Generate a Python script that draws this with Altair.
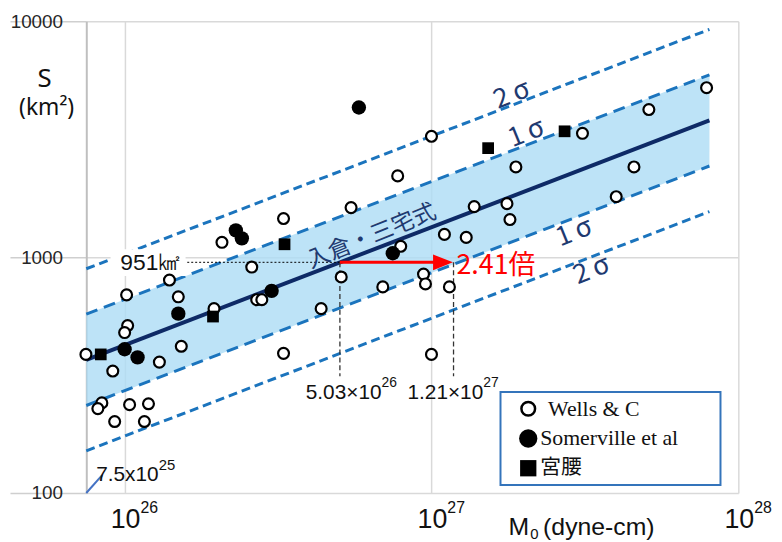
import altair as alt
import pandas as pd

# ---------------- data ----------------
# Wells & Coppersmith (open circles)
wells_m0 = [7.48e25, 1.015e26, 1.40e26, 1.496e26, 1.023e26, 1.0e26, 9.15e25, 1.298e26, 1.53e26, 1.956e26,
            8.43e25, 8.18e25, 1.038e26, 1.196e26, 9.28e25, 1.16e26, 2.076e26, 3.295e26, 5.47e26,
            2.596e26, 5.08e26, 2.694e26, 2.80e26, 4.37e26, 6.94e26, 3.295e26, 1.0e27, 7.76e26, 1.884e27,
            1.378e27, 1.762e27, 1.802e27, 1.102e27, 1.298e27, 7.94e26, 9.42e26, 9.56e26, 1.144e27, 1.0e27,
            3.105e27, 5.11e27, 7.88e27, 4.57e27, 4.0e27]
wells_s = [387, 692, 800, 679, 513, 479, 329, 359, 419, 605,
           241, 228, 237, 239, 201, 201, 1156, 1458, 1622,
           908, 824, 660, 660, 605, 748, 391, 3255, 2211, 2412,
           1638, 1686, 1444, 1249, 1213, 1112, 848, 770, 748, 387,
           3351, 4227, 5230, 2412, 1804]
# Somerville et al (filled circles)
som_m0 = [1.0e26, 1.102e26, 1.496e26, 3.013e26, 2.304e26, 2.41e26, 5.80e26, 7.48e26]
som_s = [407, 376, 576, 720, 1299, 1202, 4310, 1039]
# Miyakoshi (squares)
miy_m0 = [8.36e25, 1.941e26, 3.32e26, 1.53e27, 2.715e27]
miy_s = [387, 560, 1134, 2899, 3417]

# Irikura-Miyake relation and sigma bands (end points)
fit_m0 = [7.5e25, 8.05e27]
fit_s = [367, 3800]
s1_up = [573, 5930]
s1_dn = [235, 2435]
s2_up = [893, 9240]
s2_dn = [151, 1560]

# annotations
ref_m0 = [5.03e26, 1.18e27]
ref_s = 951
ref_bottom = 313
ref_sups = ["26", "27"]
ref_mants = ["5.03×10", "1.21×10"]
sigma_labels = ["2\u2009σ", "1\u2009σ", "1\u2009σ", "2\u2009σ"]
sigma_m0 = [1.83e27, 2.04e27, 2.92e27, 3.33e27]
sigma_s = [4880, 3350, 1270, 880]
xticks = [1e26, 1e27, 1e28]
xtick_sups = ["26", "27", "28"]
yticks = [100, 1000, 10000]

NARROW = "'Liberation Sans Narrow', 'Liberation Sans', sans-serif"
CJK = "Noto Sans CJK JP"
BAND = "#addcf5"
DASH = "#1b74bd"
NAVY = "#0e2a66"
TNAVY = "#1f3a70"

xs = alt.Scale(type="log", domain=[7.5e25, 1e28], nice=False)
ys = alt.Scale(type="log", domain=[100, 10000], nice=False)

xaxis = alt.Axis(values=xticks, labels=False, ticks=False, domain=False, grid=True,
                 gridColor="#d9d9d9", gridWidth=1.5, title=None)
yaxis = alt.Axis(values=yticks, grid=True, gridColor="#d9d9d9", gridWidth=1.5,
                 domainColor="#bfbfbf", domainWidth=2, tickColor="#cfcfcf", tickSize=77,
                 tickWidth=1.5, labelPadding=-53, labelFont="Liberation Sans", labelFontSize=19,
                 labelColor="#262626", labelExpr="format(datum.value, 'd')", title=None)


def X(field):
    return alt.X(field, type="quantitative", scale=xs, axis=xaxis)


def Y(field):
    return alt.Y(field, type="quantitative", scale=ys, axis=yaxis)


lines_df = pd.DataFrame({"m0": fit_m0, "main": fit_s, "up1": s1_up, "dn1": s1_dn,
                         "up2": s2_up, "dn2": s2_dn})

band = alt.Chart(lines_df).mark_area(color=BAND, opacity=0.8).encode(
    x=X("m0"), y=Y("dn1"), y2="up1:Q",
)

sig_lines = []
for f, dash in [("up2", [9, 5]), ("dn2", [9, 5]), ("up1", [12, 7]), ("dn1", [12, 7])]:
    sig_lines.append(alt.Chart(lines_df).mark_line(color=DASH, strokeWidth=3, strokeDash=dash)
                     .encode(x=X("m0"), y=Y(f)))
main_line = alt.Chart(lines_df).mark_line(color=NAVY, strokeWidth=4).encode(x=X("m0"), y=Y("main"))

# white box behind the 951 km2 label
box_df = pd.DataFrame({"x1": [9.0e25], "x2": [1.58e26], "y1": [1080], "y2": [832]})
label_box = alt.Chart(box_df).mark_rect(fill="white").encode(x=X("x1"), x2="x2", y=Y("y1"), y2="y2")

# dotted horizontal from label to the curve
hdot_df = pd.DataFrame({"x1": [1.6e26], "x2": [ref_m0[0]], "s": [ref_s]})
hdot = alt.Chart(hdot_df).mark_rule(color="black", strokeWidth=1, strokeDash=[2, 2]).encode(
    x=X("x1"), x2="x2", y=Y("s"))
lbl951 = alt.Chart(hdot_df).mark_text(text="951㎢", font=NARROW, fontSize=23, align="right",
                                      baseline="middle", dx=-6, dy=1, color="#111").encode(
    x=X("x1"), y=Y("s"))

# vertical dashed lines
vd_df = pd.DataFrame({"m0": ref_m0, "top": [ref_s, ref_s], "bot": [ref_bottom, ref_bottom],
                      "mant": ref_mants, "sup": ref_sups})
vdash = alt.Chart(vd_df).mark_rule(color="#333", strokeWidth=1.3, strokeDash=[5, 3]).encode(
    x=X("m0"), y=Y("top"), y2="bot")
mant1 = alt.Chart(vd_df.iloc[[0]]).mark_text(font=NARROW, fontSize=21, align="right",
                                             baseline="alphabetic", dx=42, dy=23, color="#111").encode(
    x=X("m0"), y=Y("bot"), text="mant:N")
sup1 = alt.Chart(vd_df.iloc[[0]]).mark_text(font=NARROW, fontSize=14, align="left",
                                            baseline="alphabetic", dx=42, dy=11, color="#111").encode(
    x=X("m0"), y=Y("bot"), text="sup:N")
mant2 = alt.Chart(vd_df.iloc[[1]]).mark_text(font=NARROW, fontSize=21, align="right",
                                             baseline="alphabetic", dx=30, dy=23, color="#111").encode(
    x=X("m0"), y=Y("bot"), text="mant:N")
sup2 = alt.Chart(vd_df.iloc[[1]]).mark_text(font=NARROW, fontSize=14, align="left",
                                            baseline="alphabetic", dx=30, dy=11, color="#111").encode(
    x=X("m0"), y=Y("bot"), text="sup:N")

# red arrow
arrow_df = pd.DataFrame({"x1": [ref_m0[0]], "x2": [1.09e27], "s": [ref_s]})
arrow_line = alt.Chart(arrow_df).mark_rule(color="#ff0000", strokeWidth=3).encode(
    x=X("x1"), x2="x2", y=Y("s"))
arrow_head = alt.Chart(arrow_df).mark_point(shape="M-1,-0.8L1,0L-1,0.8Z", filled=True,
                                            color="#ff0000", size=400, opacity=1).encode(
    x=X("x2"), y=Y("s"))
tip_df = pd.DataFrame({"m0": [ref_m0[1]], "s": [ref_s]})
ratio_txt = alt.Chart(tip_df).mark_text(text="2.41倍", font=CJK, fontSize=27, align="left",
                                        baseline="middle", dx=3, dy=4, color="#ff0000").encode(
    x=X("m0"), y=Y("s"))

# 7.5x10^25 marker
m75_df = pd.DataFrame({"x1": [7.5e25], "x2": [8.45e25], "y1": [100], "y2": [119]})
m75_line = alt.Chart(m75_df).mark_rule(color="#4472c4", strokeWidth=2).encode(
    x=X("x1"), x2="x2", y=Y("y1"), y2="y2")
m75_txt = alt.Chart(m75_df).mark_text(text="7.5x10", font=NARROW, fontSize=21, align="right",
                                      baseline="alphabetic", dx=57, dy=6, color="#111").encode(
    x=X("x2"), y=Y("y2"))
m75_sup = alt.Chart(m75_df).mark_text(text="25", font=NARROW, fontSize=15, align="left",
                                      baseline="alphabetic", dx=57, dy=-5, color="#111").encode(
    x=X("x2"), y=Y("y2"))

# sigma labels and formula label
sig_df = pd.DataFrame({"m0": sigma_m0, "s": sigma_s, "t": sigma_labels})
sig_txt = alt.Chart(sig_df).mark_text(font=CJK, fontSize=27, angle=338, align="center",
                                      baseline="middle", color=TNAVY).encode(
    x=X("m0"), y=Y("s"), text="t:N")
form_df = pd.DataFrame({"m0": [6.38e26], "s": [1225]})
form_txt = alt.Chart(form_df).mark_text(text="入倉・三宅式", font=CJK, fontSize=23, angle=338,
                                        align="center", baseline="middle", color=TNAVY).encode(
    x=X("m0"), y=Y("s"))

# data points
wells = alt.Chart(pd.DataFrame({"m0": wells_m0, "s": wells_s})).mark_point(
    shape="circle", filled=True, fill="white", stroke="black", strokeWidth=2.2, size=121, opacity=1
).encode(x=X("m0"), y=Y("s"))
som = alt.Chart(pd.DataFrame({"m0": som_m0, "s": som_s})).mark_circle(
    color="black", size=210, opacity=1).encode(x=X("m0"), y=Y("s"))
miy = alt.Chart(pd.DataFrame({"m0": miy_m0, "s": miy_s})).mark_square(
    color="black", size=140, opacity=1).encode(x=X("m0"), y=Y("s"))

# x tick labels (10^n)
xt_df = pd.DataFrame({"m0": xticks, "sup": xtick_sups})
xt_main = alt.Chart(xt_df).mark_text(text="10", font=NARROW, fontSize=27, align="right",
                                     baseline="alphabetic", dx=16, color="#111").encode(
    x=X("m0"), y=alt.value(511))
xt_sup = alt.Chart(xt_df).mark_text(font=NARROW, fontSize=16, align="left",
                                    baseline="alphabetic", dx=16, color="#111").encode(
    x=X("m0"), y=alt.value(496), text="sup:N")

one = pd.DataFrame({"k": [0]})
xt_M = alt.Chart(one).mark_text(text="M", font="Liberation Sans", fontSize=25, align="right",
                                baseline="alphabetic", color="#111").encode(
    x=alt.value(447), y=alt.value(518))
xt_0 = alt.Chart(one).mark_text(text="0", font="Liberation Sans", fontSize=15, align="left",
                                baseline="alphabetic", color="#111").encode(
    x=alt.value(448), y=alt.value(522))
xt_unit = alt.Chart(one).mark_text(text="(dyne-cm)", font="Liberation Sans", fontSize=25,
                                   align="left", baseline="alphabetic", color="#111").encode(
    x=alt.value(461), y=alt.value(518))
yt_S = alt.Chart(one).mark_text(text="S", font="Noto Sans", fontSize=26, align="center",
                                baseline="middle", color="#111").encode(
    x=alt.value(-42), y=alt.value(58))
yt_unit = alt.Chart(one).mark_text(text="(km²)", font="Noto Sans", fontSize=23, align="center",
                                   baseline="middle", color="#111").encode(
    x=alt.value(-40), y=alt.value(88))

# legend (box, symbols, labels)
leg_box = alt.Chart(one).mark_rect(fill="white", stroke="#3474bb", strokeWidth=2).encode(
    x=alt.value(418), x2=alt.value(640), y=alt.value(374), y2=alt.value(468))
leg_open = alt.Chart(one).mark_point(shape="circle", filled=True, fill="white", stroke="black",
                                     strokeWidth=2.5, size=190, opacity=1).encode(
    x=alt.value(446), y=alt.value(391))
leg_fill = alt.Chart(one).mark_circle(color="black", size=340, opacity=1).encode(
    x=alt.value(446), y=alt.value(421))
leg_sq = alt.Chart(one).mark_square(color="black", size=270, opacity=1).encode(
    x=alt.value(446), y=alt.value(451))
leg_t1 = alt.Chart(one).mark_text(text="Wells & C", font="Liberation Serif", fontSize=22,
                                  align="left", baseline="middle", color="#111").encode(
    x=alt.value(466), y=alt.value(391))
leg_t2 = alt.Chart(one).mark_text(text="Somerville et al", font="Liberation Serif", fontSize=22,
                                  align="left", baseline="middle", color="#111").encode(
    x=alt.value(458), y=alt.value(421))
leg_t3 = alt.Chart(one).mark_text(text="宮腰", font=CJK, fontSize=21,
                                  align="left", baseline="middle", color="#111").encode(
    x=alt.value(458), y=alt.value(451))

chart = alt.layer(
    band, *sig_lines, main_line, label_box, hdot, lbl951, vdash, arrow_line, arrow_head,
    wells, som, miy, sig_txt, form_txt, ratio_txt, mant1, sup1, mant2, sup2,
    m75_line, m75_txt, m75_sup, xt_main, xt_sup, xt_M, xt_0, xt_unit, yt_S, yt_unit,
    leg_box, leg_open, leg_fill, leg_sq, leg_t1, leg_t2, leg_t3,
).properties(
    width=658, height=476,
    padding={"left": 79, "top": 11, "right": 36, "bottom": 47},
    autosize=alt.AutoSizeParams(type="none"),
    background="white",
).configure_view(stroke=None)

chart.save("out.html", embed_options={"renderer": "svg", "actions": False})
